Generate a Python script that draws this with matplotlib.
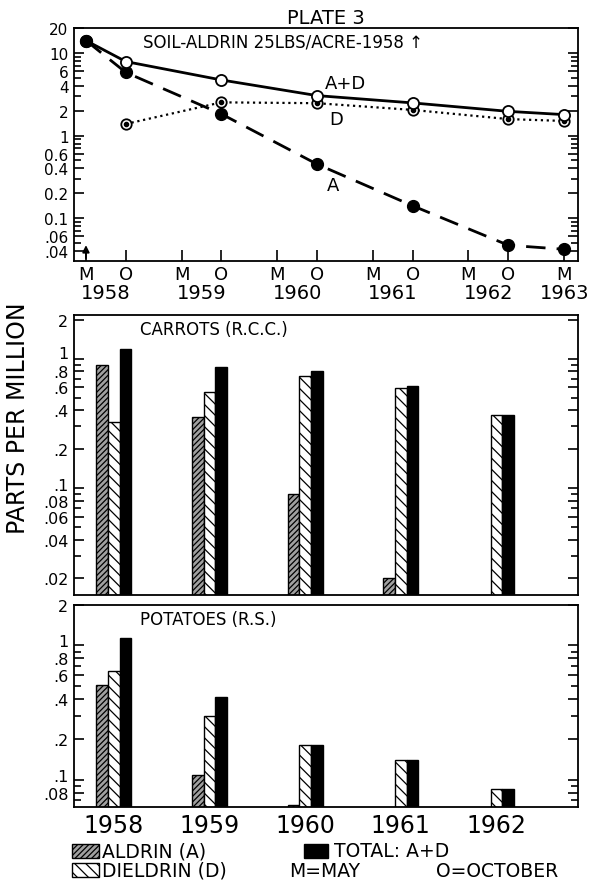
import numpy as np
import matplotlib.pyplot as plt
from matplotlib.patches import Rectangle
from matplotlib.transforms import ScaledTranslation

plt.rcParams['font.family'] = ['DejaVu Sans']
plt.rcParams['hatch.linewidth'] = 0.9

# Soil residues (ppm); M = May, O = October samplings
soil_dates = ["M1958", "O1958", "O1959", "O1960", "O1961", "O1962", "M1963"]
soil_total = [14.1, 7.85, 4.7, 3.04, 2.48, 1.96, 1.79]
soil_aldrin = [14.1, 5.8, 1.82, 0.45, 0.141, 0.047, 0.042]
dieldrin_dates = ["O1958", "O1959", "O1960", "O1961", "O1962", "M1963"]
soil_dieldrin = [1.38, 2.52, 2.46, 2.04, 1.58, 1.5]

# Crop residues (ppm) by harvest year
crop_years = [1958, 1959, 1960, 1961, 1962]
carrot_aldrin = [0.9, 0.355, 0.09, 0.02, np.nan]
carrot_dieldrin = [0.325, 0.55, 0.73, 0.59, 0.37]
carrot_total = [1.2, 0.87, 0.8, 0.62, 0.37]
potato_aldrin = [0.51, 0.109, 0.065, np.nan, np.nan]
potato_dieldrin = [0.645, 0.30, 0.18, 0.14, 0.085]
potato_total = [1.13, 0.41, 0.18, 0.14, 0.085]

tick_codes = ["M1958", "O1958", "M1959", "O1959", "M1960", "O1960",
              "M1961", "O1961", "M1962", "O1962", "M1963"]


def to_year(code):
    month = 5 if code[0] == "M" else 10
    return int(code[1:]) + (month - 0.5) / 12


def log_ticks(ax, majors, labels, lo, hi, size=12):
    minors = [k * 10.0 ** e for e in range(-3, 2) for k in range(1, 10)]
    minors = [m for m in minors if lo < m < hi and not np.isclose(majors, m).any()]
    ax.set_yticks(majors)
    ax.set_yticklabels(labels)
    ax.set_yticks(minors, minor=True)
    ax.yaxis.set_minor_formatter(plt.NullFormatter())
    ax.tick_params(axis="y", which="both", direction="in", left=True, right=True,
                   width=1.2, pad=4, labelsize=size)
    ax.tick_params(axis="y", which="major", length=7)
    ax.tick_params(axis="y", which="minor", length=5)


fig = plt.figure(figsize=(5.89, 8.87), dpi=100)
W, H = 589, 887


def px_axes(x0, y0, x1, y1):
    return fig.add_axes([x0 / W, 1 - y1 / H, (x1 - x0) / W, (y1 - y0) / H])


def nudge(ax, value, dy_pt):
    for t, lab in zip(ax.get_yticks(), ax.get_yticklabels()):
        if np.isclose(t, value):
            lab.set_transform(lab.get_transform() + ScaledTranslation(0, dy_pt / 72, fig.dpi_scale_trans))


xlim = (1958.25, 1963.52)

# ---- soil panel ----
ax1 = px_axes(74, 29, 578, 262)
ax1.set_yscale("log")
ax1.set_ylim(0.0303, 20)
ax1.set_xlim(*xlim)

ax1.plot([to_year(d) for d in soil_dates], soil_total, "-", color="black", lw=2,
         marker="o", ms=8, mfc="white", mec="black", mew=1.3, markevery=range(1, 7), zorder=4)
ax1.plot([to_year(d) for d in dieldrin_dates], soil_dieldrin, ":", color="black", lw=1.6,
         marker="o", ms=7.5, mfc="white", mec="black", mew=1.3, zorder=3)
ax1.plot([to_year(d) for d in dieldrin_dates], soil_dieldrin, "o", color="black", ms=3, zorder=3.5)
ax1.plot([to_year(d) for d in soil_dates], soil_aldrin, color="black", lw=2,
         dashes=(7, 4), marker="o", ms=8.5, mfc="black", mec="black", zorder=2)
ax1.plot([to_year("M1958")], [soil_aldrin[0]], "o", color="black", ms=8.5, zorder=5)

log_ticks(ax1, [20, 10, 6, 4, 2, 1, 0.6, 0.4, 0.2, 0.1, 0.06, 0.04],
          ["20", "10", "6", "4", "2", "1", "0.6", "0.4", "0.2", "0.1", ".06", ".04"],
          0.0303, 20, size=11)
ax1.set_xticks([to_year(c) for c in tick_codes])
ax1.set_xticklabels([c[0] for c in tick_codes], fontsize=13)
ax1.tick_params(axis="x", direction="in", length=8, width=1.2, pad=3)
for y in range(1958, 1964):
    xpos = to_year("M%d" % y) if y == 1963 else (to_year("M%d" % y) + to_year("O%d" % y)) / 2
    ax1.text(xpos, -0.135, str(y), transform=ax1.get_xaxis_transform(),
             ha="center", va="center", fontsize=14)

ax1.annotate("", xy=(to_year("M1958"), 0.08), xycoords=("data", "axes fraction"),
             xytext=(to_year("M1958"), 0.0), textcoords=("data", "axes fraction"),
             arrowprops=dict(arrowstyle="-|>", color="black", lw=1.3, mutation_scale=10))

ax1.text(0.137, 0.94, "SOIL-ALDRIN 25LBS/ACRE-1958 \u2191", transform=ax1.transAxes,
         fontsize=12, va="center", ha="left")
ax1.text(to_year("O1960") + 0.08, 4.3, "A+D", fontsize=13, va="center")
ax1.text(to_year("O1960") + 0.13, 1.6, "D", fontsize=13, va="center")
ax1.text(to_year("O1960") + 0.1, 0.25, "A", fontsize=13, va="center")
fig.text(326 / W, 1 - 18 / H, "PLATE 3", ha="center", va="center", fontsize=14)
for s in ax1.spines.values():
    s.set_linewidth(1.3)

# ---- crop panels ----
bar_w = 0.122
centers = np.array([to_year("M%d" % y) + 7 / 24 for y in crop_years])
aldrin_style = dict(facecolor="#a0a0a0", edgecolor="black", hatch="//////")
dieldrin_style = dict(facecolor="white", edgecolor="black", hatch="\\\\\\")


def crop_panel(ax, aldrin, dieldrin, total, lo, hi):
    ax.set_yscale("log")
    a = np.array(aldrin, dtype=float)
    m = ~np.isnan(a)
    ax.bar(centers[m] - bar_w, a[m], width=bar_w, lw=1, **aldrin_style)
    ax.bar(centers, dieldrin, width=bar_w, lw=1, **dieldrin_style)
    ax.bar(centers + bar_w, total, width=bar_w, color="black", edgecolor="black", lw=1)
    ax.set_ylim(lo, hi)
    ax.set_xlim(*xlim)
    for s in ax.spines.values():
        s.set_linewidth(1.3)


ax2 = px_axes(74, 316, 578, 596)
crop_panel(ax2, carrot_aldrin, carrot_dieldrin, carrot_total, 0.0149, 2.18)
log_ticks(ax2, [2, 1, 0.8, 0.6, 0.4, 0.2, 0.1, 0.08, 0.06, 0.04, 0.02],
          ["2", "1", ".8", ".6", ".4", ".2", ".1", ".08", ".06", ".04", ".02"],
          0.0149, 2.18, size=11.5)
ax2.set_xticks([])
ax2.text(0.13, 0.95, "CARROTS (R.C.C.)", transform=ax2.transAxes, fontsize=12,
         va="center", ha="left")

ax3 = px_axes(74, 606, 578, 808)
crop_panel(ax3, potato_aldrin, potato_dieldrin, potato_total, 0.0625, 2.0)
log_ticks(ax3, [2, 1, 0.8, 0.6, 0.4, 0.2, 0.1, 0.08],
          ["2", "1", ".8", ".6", ".4", ".2", ".1", ".08"], 0.0625, 2.0, size=11.5)
ax3.set_xticks(centers)
ax3.set_xticklabels([str(y) for y in crop_years], fontsize=17)
ax3.tick_params(axis="x", length=0, pad=4)
ax3.text(0.13, 0.93, "POTATOES (R.S.)", transform=ax3.transAxes, fontsize=12,
         va="center", ha="left")

nudge(ax2, 1, 5)
nudge(ax2, 0.1, 3)
nudge(ax3, 1, 4)
nudge(ax3, 0.1, 3)

fig.text(18 / W, 1 - 418 / H, "PARTS PER MILLION", rotation=90, ha="center",
         va="center", fontsize=17)

# ---- legend ----
def swatch(x0, y0, x1, y1, **kw):
    fig.patches.append(Rectangle((x0 / W, 1 - y1 / H), (x1 - x0) / W, (y1 - y0) / H,
                                 transform=fig.transFigure, lw=1, **kw))


swatch(72, 845, 99, 859, **aldrin_style)
swatch(72, 864, 99, 878, **dieldrin_style)
swatch(304, 845, 328, 859, facecolor="black", edgecolor="black")
fig.text(102 / W, 1 - 852 / H, "ALDRIN (A)", va="center", fontsize=13.5)
fig.text(102 / W, 1 - 871 / H, "DIELDRIN (D)", va="center", fontsize=13.5)
fig.text(334 / W, 1 - 852 / H, "TOTAL: A+D", va="center", fontsize=13.5)
fig.text(289 / W, 1 - 872 / H, "M=MAY", va="center", fontsize=13.5)
fig.text(436 / W, 1 - 872 / H, "O=OCTOBER", va="center", fontsize=13.5)

fig.savefig("out.png", dpi=100, facecolor="white")
